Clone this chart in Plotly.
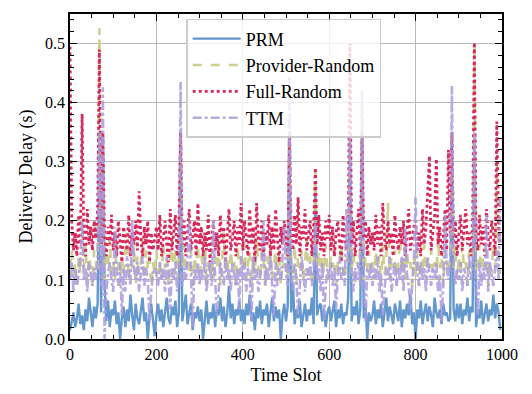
import plotly.graph_objects as go

slots = list(range(0, 1000, 4))

prm = [
    0.015,0.03,0.045,0.02,0.035,0.06,0.025,0.04,0.015,0.05,0.03,0.07,0.04,0.02,0.055,0.035,0.06,0.33,0.045,0.34,0.09,0.03,0.065,0.02,0.05,
    0.04,0.065,0.025,0.045,0.0,0.035,0.055,0.02,0.05,0.03,0.075,0.04,0.015,0.06,0.035,0.025,0.05,0.07,0.03,0.045,0.0,0.04,0.06,0.025,0.005,
    0.04,0.06,0.03,0.05,0.02,0.045,0.07,0.035,0.025,0.055,0.04,0.065,0.02,0.045,0.33,0.03,0.05,0.075,0.025,0.04,0.06,0.015,0.045,0.035,0.055,
    0.03,0.05,0.0,0.04,0.065,0.025,0.045,0.035,0.06,0.02,0.05,0.04,0.07,0.03,0.055,0.02,0.045,0.09,0.035,0.06,0.025,0.05,0.04,0.065,0.03,
    0.05,0.025,0.06,0.04,0.075,0.03,0.045,0.015,0.055,0.035,0.065,0.025,0.05,0.04,0.06,0.02,0.045,0.07,0.03,0.055,0.035,0.05,0.0,0.04,0.06,
    0.03,0.055,0.33,0.045,0.095,0.025,0.05,0.035,0.065,0.02,0.045,0.06,0.03,0.05,0.04,0.07,0.025,0.25,0.04,0.055,0.06,0.03,0.05,0.02,0.045,
    0.055,0.03,0.045,0.065,0.02,0.05,0.035,0.06,0.025,0.045,0.04,0.07,0.33,0.03,0.055,0.04,0.065,0.025,0.05,0.33,0.035,0.06,0.0,0.045,0.03,
    0.04,0.065,0.025,0.05,0.035,0.06,0.02,0.045,0.07,0.03,0.055,0.04,0.025,0.06,0.045,0.03,0.065,0.02,0.05,0.035,0.06,0.04,0.075,0.025,0.045,
    0.0,0.05,0.035,0.065,0.025,0.045,0.06,0.03,0.055,0.04,0.02,0.07,0.045,0.035,0.05,0.025,0.06,0.04,0.045,0.03,0.035,0.33,0.05,0.03,0.06,
    0.035,0.06,0.025,0.05,0.04,0.07,0.03,0.055,0.045,0.34,0.02,0.05,0.035,0.065,0.025,0.045,0.06,0.03,0.05,0.04,0.075,0.035,0.06,0.045,0.015,
]

provider_random = [
    0.12,0.15,0.1,0.13,0.09,0.14,0.11,0.2,0.12,0.16,0.1,0.14,0.12,0.09,0.15,0.13,0.11,0.526,0.14,0.35,0.1,0.15,0.12,0.17,0.11,
    0.13,0.1,0.16,0.12,0.09,0.14,0.11,0.15,0.18,0.1,0.13,0.12,0.16,0.09,0.14,0.11,0.13,0.17,0.1,0.15,0.12,0.14,0.09,0.13,0.11,
    0.15,0.11,0.13,0.1,0.16,0.12,0.14,0.09,0.13,0.17,0.11,0.15,0.1,0.14,0.35,0.12,0.16,0.1,0.13,0.11,0.15,0.09,0.14,0.12,0.16,
    0.1,0.14,0.12,0.17,0.09,0.13,0.11,0.15,0.1,0.14,0.12,0.16,0.09,0.13,0.18,0.11,0.14,0.1,0.15,0.12,0.13,0.09,0.16,0.11,0.14,
    0.12,0.16,0.1,0.13,0.15,0.09,0.14,0.11,0.17,0.12,0.1,0.15,0.13,0.09,0.14,0.12,0.16,0.1,0.13,0.15,0.11,0.14,0.09,0.13,0.12,
    0.15,0.1,0.35,0.13,0.11,0.16,0.09,0.14,0.12,0.15,0.1,0.13,0.17,0.11,0.14,0.09,0.13,0.285,0.12,0.15,0.1,0.14,0.11,0.16,0.12,
    0.1,0.14,0.12,0.15,0.09,0.13,0.11,0.16,0.12,0.1,0.14,0.13,0.35,0.11,0.15,0.09,0.13,0.12,0.16,0.35,0.1,0.14,0.12,0.15,0.11,
    0.13,0.1,0.15,0.12,0.14,0.09,0.16,0.11,0.13,0.23,0.1,0.14,0.12,0.15,0.09,0.13,0.17,0.11,0.14,0.1,0.15,0.12,0.13,0.09,0.14,
    0.11,0.15,0.09,0.13,0.12,0.16,0.1,0.14,0.12,0.15,0.11,0.13,0.1,0.17,0.12,0.14,0.09,0.15,0.13,0.11,0.14,0.35,0.12,0.16,0.1,
    0.14,0.11,0.16,0.12,0.13,0.09,0.15,0.12,0.14,0.5,0.11,0.13,0.16,0.1,0.14,0.12,0.15,0.09,0.13,0.11,0.16,0.12,0.3,0.14,0.11,
]

full_random = [
    0.495,0.2,0.15,0.18,0.14,0.21,0.16,0.381,0.17,0.14,0.22,0.16,0.19,0.15,0.2,0.17,0.22,0.49,0.16,0.35,0.18,0.14,0.19,0.16,0.21,
    0.15,0.18,0.14,0.2,0.16,0.13,0.19,0.17,0.15,0.21,0.14,0.18,0.16,0.2,0.15,0.25,0.17,0.14,0.19,0.16,0.2,0.13,0.18,0.15,0.17,
    0.19,0.15,0.21,0.14,0.17,0.2,0.16,0.13,0.22,0.15,0.18,0.21,0.14,0.19,0.35,0.16,0.2,0.14,0.18,0.22,0.15,0.17,0.2,0.14,0.23,
    0.16,0.19,0.14,0.18,0.15,0.21,0.13,0.17,0.2,0.15,0.18,0.14,0.21,0.16,0.19,0.13,0.18,0.22,0.15,0.17,0.2,0.14,0.19,0.16,0.23,
    0.15,0.2,0.17,0.14,0.22,0.16,0.19,0.13,0.23,0.17,0.15,0.2,0.14,0.18,0.16,0.21,0.14,0.19,0.15,0.22,0.17,0.13,0.19,0.16,0.2,
    0.17,0.14,0.35,0.18,0.15,0.21,0.16,0.24,0.14,0.19,0.17,0.22,0.15,0.18,0.2,0.14,0.19,0.29,0.16,0.21,0.15,0.18,0.14,0.2,0.17,
    0.21,0.15,0.19,0.14,0.18,0.2,0.16,0.13,0.21,0.17,0.15,0.19,0.5,0.16,0.2,0.14,0.18,0.22,0.15,0.35,0.17,0.2,0.14,0.19,0.16,
    0.18,0.15,0.21,0.16,0.19,0.14,0.23,0.17,0.15,0.2,0.16,0.18,0.14,0.21,0.17,0.15,0.19,0.16,0.2,0.14,0.18,0.22,0.15,0.17,0.19,
    0.2,0.15,0.18,0.14,0.22,0.16,0.19,0.24,0.31,0.15,0.18,0.21,0.305,0.16,0.19,0.14,0.17,0.22,0.15,0.32,0.18,0.35,0.16,0.2,0.14,
    0.17,0.21,0.15,0.19,0.22,0.16,0.18,0.14,0.2,0.502,0.17,0.15,0.21,0.16,0.19,0.14,0.22,0.17,0.15,0.2,0.18,0.14,0.368,0.19,0.16,
]

ttm = [
    0.1,0.13,0.08,0.12,0.09,0.11,0.14,0.2,0.1,0.12,0.08,0.13,0.11,0.09,0.12,0.1,0.14,0.35,0.09,0.426,0.0,0.08,0.11,0.13,0.1,
    0.08,0.19,0.11,0.09,0.13,0.04,0.12,0.08,0.14,0.11,0.09,0.2,0.12,0.1,0.13,0.08,0.11,0.14,0.09,0.12,0.1,0.03,0.08,0.11,0.12,
    0.11,0.09,0.13,0.1,0.12,0.08,0.14,0.11,0.05,0.12,0.1,0.13,0.08,0.11,0.435,0.09,0.12,0.1,0.14,0.2,0.11,0.02,0.12,0.1,0.13,
    0.09,0.12,0.1,0.14,0.08,0.11,0.13,0.09,0.2,0.1,0.04,0.08,0.13,0.11,0.09,0.14,0.1,0.12,0.08,0.13,0.11,0.09,0.12,0.05,0.14,
    0.1,0.13,0.08,0.12,0.11,0.03,0.14,0.1,0.12,0.08,0.11,0.13,0.2,0.09,0.12,0.1,0.14,0.08,0.04,0.13,0.09,0.12,0.1,0.14,0.19,
    0.11,0.09,0.445,0.12,0.08,0.13,0.1,0.04,0.09,0.14,0.11,0.08,0.12,0.1,0.13,0.09,0.11,0.2,0.1,0.12,0.08,0.13,0.03,0.09,0.12,
    0.1,0.13,0.09,0.12,0.05,0.11,0.14,0.1,0.12,0.09,0.22,0.13,0.35,0.11,0.08,0.12,0.1,0.13,0.09,0.42,0.11,0.03,0.12,0.1,0.13,
    0.09,0.12,0.1,0.14,0.08,0.11,0.04,0.09,0.12,0.1,0.14,0.08,0.11,0.13,0.09,0.12,0.1,0.14,0.08,0.19,0.11,0.09,0.05,0.1,0.13,
    0.24,0.11,0.09,0.13,0.1,0.12,0.08,0.14,0.11,0.09,0.12,0.1,0.13,0.08,0.11,0.03,0.09,0.21,0.12,0.1,0.13,0.428,0.11,0.09,0.12,
    0.1,0.13,0.08,0.12,0.11,0.09,0.14,0.1,0.12,0.35,0.08,0.04,0.13,0.09,0.12,0.1,0.21,0.08,0.13,0.11,0.09,0.12,0.15,0.1,0.24,
]

names = ["PRM", "Provider-Random", "Full-Random", "TTM"]
series = [prm, provider_random, full_random, ttm]
for s in series:
    assert len(s) == len(slots), len(s)
colors = ["rgba(98,152,206,1.0)", "rgba(203,203,138,0.95)",
          "rgba(214,40,90,1.0)", "rgba(172,155,222,0.85)"]
dashes = ["solid", "dash", "dot", "dashdot"]
widths = [2.4, 2.6, 2.8, 2.6]

fig = go.Figure()
for n, s, c, d, w in zip(names, series, colors, dashes, widths):
    fig.add_trace(go.Scatter(x=slots, y=s, name=n, mode="lines",
                             line=dict(color=c, dash=d, width=w)))

font = "Liberation Serif, Times New Roman, serif"
axis_common = dict(
    showline=True, linecolor="black", linewidth=1.5, mirror="allticks",
    ticks="inside", ticklen=7, tickwidth=1.2, tickcolor="black",
    showgrid=True, gridcolor="#b8b8b8", gridwidth=1, zeroline=False,
    tickfont=dict(family=font, size=16, color="black"),
)
fig.update_xaxes(**axis_common, range=[0, 1000], dtick=200,
                 minor=dict(ticks="inside", ticklen=4, dtick=50, tickcolor="black", showgrid=False),
                 title=dict(text="Time Slot", font=dict(family=font, size=18, color="black"), standoff=6))
fig.update_yaxes(**axis_common, range=[0, 0.55], dtick=0.1, tickformat=".1f",
                 minor=dict(ticks="inside", ticklen=4, dtick=0.02, tickcolor="black", showgrid=False),
                 title=dict(text="Delivery Delay (s)", font=dict(family=font, size=18, color="black"), standoff=8))

fig.update_layout(
    width=532, height=394,
    margin=dict(l=70, r=30, t=14, b=50),
    paper_bgcolor="white", plot_bgcolor="white",
    font=dict(family=font, size=16, color="black"),
    legend=dict(x=0.269, y=0.985, xanchor="left", yanchor="top", itemwidth=48,
                bgcolor="rgba(255,255,255,0.8)", bordercolor="rgba(200,200,200,0.9)",
                borderwidth=1.5, font=dict(family=font, size=18, color="black")),
)
fig.write_html("out.html")
